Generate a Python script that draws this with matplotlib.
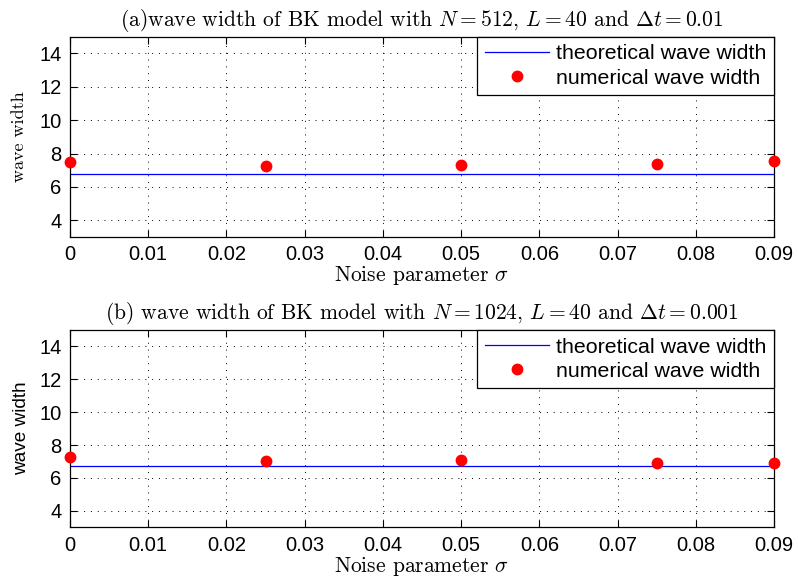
import matplotlib
matplotlib.use("Agg")
import matplotlib.pyplot as plt
from matplotlib.ticker import FuncFormatter

sigma = [0.0, 0.025, 0.05, 0.075, 0.09]
num_a = [7.49, 7.25, 7.33, 7.37, 7.55]
num_b = [7.29, 7.02, 7.10, 6.94, 6.92]
theory_a = 6.77
theory_b = 6.74
xticks = [0, 0.01, 0.02, 0.03, 0.04, 0.05, 0.06, 0.07, 0.08, 0.09]
yticks = [4, 6, 8, 10, 12, 14]
titles = [r"(a)wave width of BK model with $N=512$, $L=40$ and $\Delta t=0.01$",
          r"(b) wave width of BK model with $N=1024$, $L=40$ and $\Delta t=0.001$"]

plt.rcParams['mathtext.fontset'] = 'cm'
plt.rcParams['axes.unicode_minus'] = False

fig = plt.figure(figsize=(7.98, 5.79), dpi=100)
ax1 = fig.add_axes([0.0877, 0.5907, 0.8823, 0.3459])
ax2 = fig.add_axes([0.0877, 0.0893, 0.8823, 0.3407])

serif = 'cmr10'
sans = 'Liberation Sans'

for i, (ax, num, th) in enumerate([(ax1, num_a, theory_a), (ax2, num_b, theory_b)]):
    ax.plot([0, 0.09], [th, th], color=(0, 0, 1), lw=0.9, label='theoretical wave width')
    ax.plot(sigma, num, 'o', color=(1, 0, 0), markersize=7.5, clip_on=False,
            label='numerical wave width', zorder=5)
    ax.set_xlim(0, 0.09)
    ax.set_ylim(3, 15)
    ax.set_xticks(xticks)
    ax.set_yticks(yticks)
    ax.xaxis.set_major_formatter(FuncFormatter(lambda v, p: f"{v:g}"))
    ax.tick_params(direction='in', top=True, right=True, length=5, width=0.8,
                   labelsize=14.5, pad=6)
    for lab in ax.get_xticklabels() + ax.get_yticklabels():
        lab.set_fontfamily(sans)
    ax.grid(True, linestyle=(0, (1, 6)), color='black', lw=0.7)
    for s in ax.spines.values():
        s.set_linewidth(0.9)
    ax.set_title(titles[i], fontsize=15.5, fontfamily=serif, pad=8)
    ax.set_xlabel(r"Noise parameter $\sigma$", fontsize=15.5, fontfamily=serif, labelpad=0)
    if i == 0:
        ax.set_ylabel("wave width", fontsize=13, fontfamily=serif, labelpad=9)
    else:
        ax.set_ylabel("wave width", fontsize=13.7, fontfamily=sans, labelpad=7)
    leg = ax.legend(loc='upper right', borderaxespad=0, fancybox=False,
                    edgecolor='black', framealpha=1, prop={'family': sans, 'size': 15.4},
                    handlelength=3.0, borderpad=0.35, labelspacing=0.25, handletextpad=0.35)
    leg.get_frame().set_linewidth(0.9)

fig.savefig("out.png", dpi=100)
